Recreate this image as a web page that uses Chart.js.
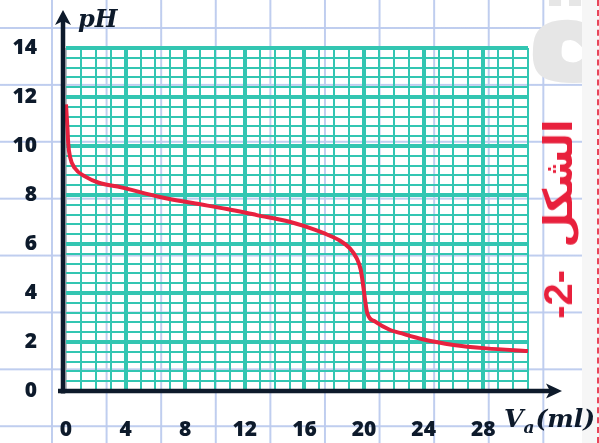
<!DOCTYPE html>
<html>
<head>
<meta charset="utf-8">
<script src="https://cdn.jsdelivr.net/npm/chart.js@4.4.1/dist/chart.umd.min.js"></script>
<style>
  html, body { margin: 0; padding: 0; }
  body {
    width: 599px; height: 443px; overflow: hidden; position: relative;
    background-color: #ffffff;
    background-image:
      linear-gradient(to right, rgba(188, 203, 238, 0.95) 1.5px, transparent 1.5px),
      linear-gradient(to bottom, rgba(188, 203, 238, 0.95) 1.5px, transparent 1.5px);
    background-size: 54.6px 56.9px;
    background-position: 51px 27px;
  }
  #mark { position: absolute; left: 525px; top: -60px; font: bold 164px "DejaVu Sans"; color: #e6e6e6; line-height: 1; }
  #strip { position: absolute; left: 582px; top: 0; width: 17px; height: 443px; background: #f6f6f6; }
  #dash { position: absolute; left: 597px; top: 0; width: 0; height: 443px; border-left: 2px dashed #e8455a; }
  #c { position: absolute; left: 0; top: 0; }
  .lbl { position: absolute; font-family: "DejaVu Serif"; font-style: italic; font-weight: bold; color: #0d1a2b; line-height: 1; white-space: nowrap; }
  #ph { left: 78px; top: 7px; font-size: 24px; }
  #va { left: 504px; top: 406px; font-size: 25px; }
  #va .sub { font-size: 17px; position: relative; top: 6px; margin-right: 1px; }
  #title { position: absolute; left: 558px; top: 219px; transform: translate(-50%, -50%) rotate(-90deg);
    font: bold 40px "Liberation Sans", "DejaVu Sans"; color: #e8203c; line-height: 1; white-space: nowrap; direction: rtl; }
</style>
</head>
<body>
<div id="mark">ة</div>
<div id="strip"></div>
<div id="dash"></div>
<canvas id="c" width="599" height="443"></canvas>
<div class="lbl" id="ph">pH</div>
<div class="lbl" id="va">V<span class="sub">a</span>(ml)</div>
<div id="title">الشكل&nbsp; -2-</div>
<script>
// Titration curve: V_a (ml) vs pH
const volumes  = [0, 0.05, 0.1, 0.15, 0.27, 0.6, 1.3, 2.2, 3.7, 6.3, 8.5, 10.8, 12.8, 15.0, 16.0, 17.3, 18.4, 19.05, 19.5, 19.78, 19.95, 20.07, 20.22, 20.75, 21.75, 22.4, 24.0, 26.0, 28.2, 31.0];
const phValues = [11.7, 11.2, 10.7, 10.1, 9.56, 9.09, 8.75, 8.5, 8.31, 7.92, 7.67, 7.43, 7.18, 6.91, 6.73, 6.44, 6.13, 5.82, 5.42, 4.94, 4.26, 3.71, 3.17, 2.83, 2.49, 2.37, 2.1, 1.88, 1.74, 1.63];
const xTickLabels = [0, 4, 8, 12, 16, 20, 24, 28];
const yTickLabels = [0, 2, 4, 6, 8, 10, 12, 14];

const NAVY = '#0d1a2b';
const TEAL = '#33c6b2';
const RED = '#e8213f';

const points = volumes.map((v, i) => ({ x: v, y: phValues[i] }));

const isMult = (v, m) => Math.abs(v / m - Math.round(v / m)) < 1e-6;

const axisArrows = {
  id: 'axisArrows',
  afterDraw(chart) {
    const { ctx, chartArea, scales: { x, y } } = chart;
    const ax = x.getPixelForValue(0) - 3;
    const ay = y.getPixelForValue(0);
    const yTip = chartArea.top - 38;
    const xTip = chartArea.right + 34;
    ctx.save();
    ctx.strokeStyle = NAVY; ctx.fillStyle = NAVY; ctx.lineWidth = 4.5; ctx.lineCap = 'butt';
    ctx.beginPath(); ctx.moveTo(ax, ay + 2.5); ctx.lineTo(ax, yTip + 10); ctx.stroke();
    ctx.beginPath(); ctx.moveTo(ax - 5, ay); ctx.lineTo(xTip - 10, ay); ctx.stroke();
    ctx.beginPath();
    ctx.moveTo(ax, yTip); ctx.lineTo(ax + 8, yTip + 15); ctx.lineTo(ax, yTip + 11); ctx.lineTo(ax - 8, yTip + 15);
    ctx.closePath(); ctx.fill();
    ctx.beginPath();
    ctx.moveTo(xTip, ay); ctx.lineTo(xTip - 16, ay - 7.5); ctx.lineTo(xTip - 12, ay); ctx.lineTo(xTip - 16, ay + 7.5);
    ctx.closePath(); ctx.fill();
    ctx.restore();
  }
};

const tickFont = { family: 'Open Sans', size: 21, weight: '800' };

new Chart(document.getElementById('c'), {
  type: 'line',
  data: {
    datasets: [{
      data: points,
      borderColor: RED,
      borderWidth: 4,
      pointRadius: 0,
      cubicInterpolationMode: 'monotone',
      fill: false,
      clip: 6
    }]
  },
  options: {
    responsive: false,
    animation: false,
    devicePixelRatio: 1,
    layout: { padding: { left: 0, top: 48, right: 71, bottom: 0 } },
    plugins: { legend: { display: false }, tooltip: { enabled: false } },
    scales: {
      x: {
        type: 'linear', min: 0, max: 31, position: 'bottom',
        afterBuildTicks: (s) => { const t = []; for (let k = 0; k <= 31; k++) t.push({ value: k }); s.ticks = t; },
        afterFit: (s) => { s.height = 52; },
        ticks: {
          autoSkip: false, maxRotation: 0, padding: 26, color: NAVY,
          font: tickFont,
          callback: (v) => xTickLabels.includes(v) ? String(v) : ''
        },
        grid: {
          drawTicks: false,
          color: (c) => c.tick && c.tick.value === 0 ? '#b9bec3' : TEAL,
          lineWidth: (c) => (c.tick && isMult(c.tick.value, 4) && c.tick.value > 0) ? 4 : 2
        },
        border: { display: false }
      },
      y: {
        type: 'linear', min: 0, max: 14,
        afterBuildTicks: (s) => { const t = []; for (let k = 0; k <= 35; k++) t.push({ value: Math.round(k * 4) / 10 }); s.ticks = t; },
        afterFit: (s) => { s.width = 66; },
        ticks: {
          autoSkip: false, padding: 29, color: NAVY,
          font: tickFont,
          callback: (v) => yTickLabels.some(t => Math.abs(t - v) < 1e-6) ? String(Math.round(v)) : ''
        },
        grid: {
          drawTicks: false,
          color: TEAL,
          lineWidth: (c) => (c.tick && isMult(c.tick.value, 2)) ? 4 : 2
        },
        border: { display: false }
      }
    }
  },
  plugins: [axisArrows]
});
</script>
</body>
</html>
